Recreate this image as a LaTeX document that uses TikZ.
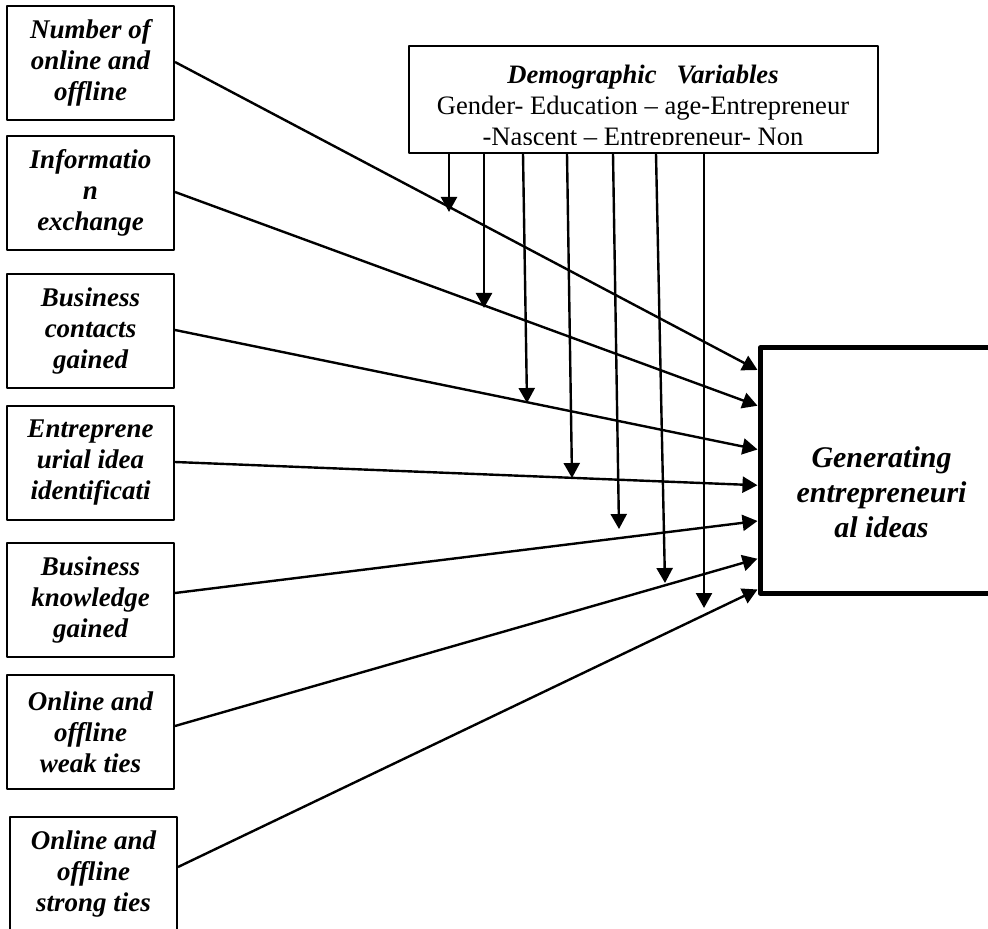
\documentclass[tikz,border=0pt]{standalone}
\usepackage{fontspec}
\setmainfont{Liberation Serif}
\usetikzlibrary{arrows.meta,calc}
\tikzset{
  factor/.style={draw, line width=1pt, minimum width=83.5pt, minimum height=57pt, inner sep=0pt,
    align=center, font=\fontsize{13.5}{15.5}\selectfont\bfseries\itshape},
  outcome/.style={draw, line width=2.5pt, minimum width=121.5pt, minimum height=122.5pt},
  outtext/.style={align=center, inner sep=0pt, font=\fontsize{15}{17.5}\selectfont\bfseries\itshape},
  moder/.style={draw, line width=1pt, minimum width=234.5pt, minimum height=53.5pt},
  modertext/.style={align=center, inner sep=0pt, font=\fontsize{13.3}{15.5}\selectfont},
}
\begin{document}
\begin{tikzpicture}[x=0.5pt, y=-0.5pt, line join=round, line width=1.2pt, >={Triangle[length=7.5pt,width=8pt]}]
\clip (0,0) rectangle (988,929);
% bien doc lap
\node[factor] (f1) at (90.5,63) {Number of\\online and\\offline};
\node[factor] (f2) at (90.5,193) {Informatio\\n\\exchange};
\node[factor] (f3) at (90.5,331) {Business\\contacts\\gained};
\node[factor] (f4) at (90.5,463) {Entreprene\\urial idea\\identificati};
\node[factor] (f5) at (90.5,600) {Business\\knowledge\\gained};
\node[factor] (f6) at (90.5,732) {Online and\\offline\\weak ties};
\node[factor] (f7) at (93.5,874) {Online and\\offline\\strong ties};
% bien phu thuoc
\node[outcome] (out) at (881.5,470.5) {};
\node[outtext] (outtxt) at (881.5,492) {Generating\\entrepreneuri\\al ideas};
% bien dieu tiet
\node[moder] (demo) at (643.5,99.5) {};
\begin{scope}
\clip (demo.north west) rectangle ([yshift=4.5pt]demo.south east);
\node[modertext] (demotxt) at (643,108) {\textbf{\textit{Demographic\ \ \ Variables}}\\Gender- Education – age-Entrepreneur\\-Nascent – Entrepreneur- Non};
\end{scope}
% cac duong noi
\foreach \i/\f/\s in {1/0.098/0.5, 2/0.241/0.5, 3/0.416/0.5, 4/0.559/0.5, 5/0.702/3.5, 6/0.853/3, 7/0.976/3.5}
  \draw[->] ([yshift=\s pt]f\i.east) -- ($(out.north west)!\f!(out.south west)$);
\foreach \k/\xb/\yb in {1/449/212, 2/484/308, 3/527/403, 4/572/478, 5/619/529, 6/665/583, 7/704/608}
  \coordinate (m\k) at (\xb,\yb);
\foreach \k/\xt in {1/449, 2/484, 3/523, 4/567, 5/613, 6/656, 7/704}
  \draw[->] (demo.south -| \xt,0) -- (m\k);
\end{tikzpicture}
\end{document}
